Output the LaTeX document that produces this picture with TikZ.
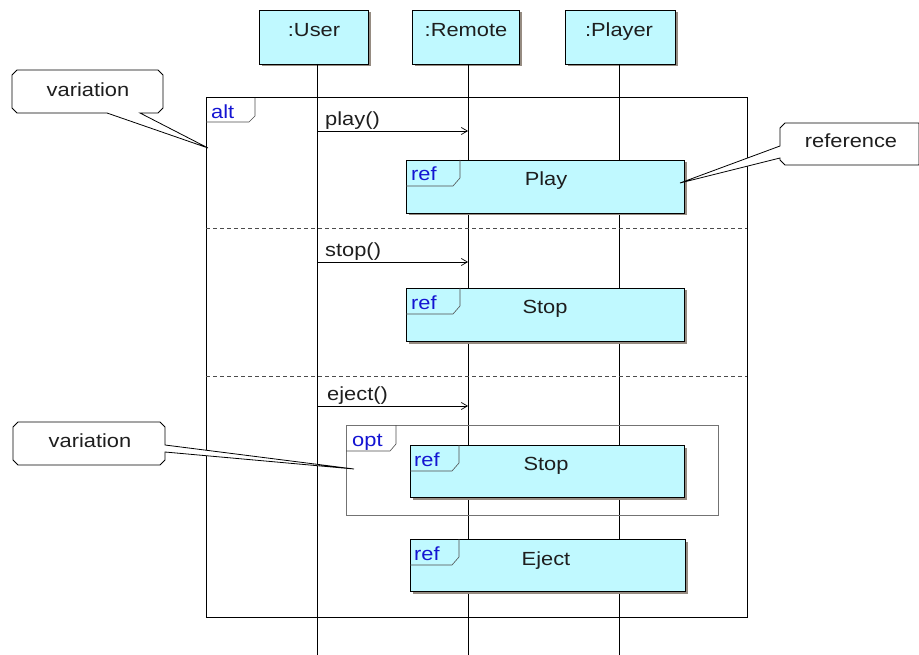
\documentclass[tikz,border=0pt]{standalone}
\usepackage{fontspec}
\setmainfont[FakeStretch=1.15]{Liberation Sans}
\usetikzlibrary{arrows.meta}
\definecolor{cyanfill}{RGB}{192,249,255}
\definecolor{tagblue}{RGB}{20,20,210}
\definecolor{shadowgray}{RGB}{150,140,130}
\definecolor{txt}{RGB}{30,30,30}
\begin{document}
\begin{tikzpicture}[x=1pt,y=-1pt,
  every node/.style={font=\fontsize{19}{22}\selectfont, inner sep=0pt, text=txt},
  lbl/.style={anchor=base},
  lblw/.style={anchor=base west},
  head/.style={draw=black, line width=1pt, fill=cyanfill, minimum height=54pt, anchor=north west},
  refbox/.style={draw=black, line width=1pt, fill=cyanfill, anchor=north west, minimum height=53pt},
  shade/.style={fill=shadowgray, draw=none},
  lifeline/.style={line width=1pt, black},
  msg/.style={line width=0.7pt, -{Straight Barb[length=6pt,width=7pt,line width=0.7pt]}},
  tabtext/.style={text=tagblue, anchor=base west},
  tab/.style={draw=black!70, line width=0.6pt},
  sep/.style={draw=black!70, line width=0.6pt, dash pattern=on 4pt off 3pt},
  callout/.style={draw=black, line width=0.8pt, fill=white}
]
\useasboundingbox (0,0) rectangle (919,655);

% lifeline heads (shadow first)
\fill[shade] (261.5,12.5) rectangle (370.5,66.5);
\fill[shade] (414.5,12.5) rectangle (521.5,66.5);
\fill[shade] (567.5,12.5) rectangle (677.5,66.5);
\node[head, minimum width=109pt] (user) at (259,10) {};
\node[lbl] (userlbl) at (314,37) {:User};
\node[head, minimum width=107pt] (remote) at (412,10) {};
\node[lbl] (remotelbl) at (466,37) {:Remote};
\node[head, minimum width=110pt] (player) at (565,10) {};
\node[lbl] (playerlbl) at (619,37) {:Player};

% lifelines
\coordinate (ubot) at (317,655);
\coordinate (rbot) at (468,655);
\coordinate (pbot) at (619,655);
\coordinate (utop) at (317,64);
\coordinate (rtop) at (468,64);
\coordinate (ptop) at (619,64);
\draw[lifeline] (utop) -- (ubot);
\draw[lifeline, line width=0.7pt] (rtop) -- (rbot);
\draw[lifeline] (ptop) -- (pbot);

% alt frame
\draw[line width=1pt] (206,98) rectangle (747,617);
\node[tabtext] (alttxt) at (211,119) {alt};
\draw[tab] (206,122) -- (249,122) -- (255,116) -- (255,98);
\draw[sep] (206,228) -- (747,228);
\draw[sep] (206,376) -- (747,376);

% messages
\coordinate (m1a) at (317,131); \coordinate (m1b) at (468,131);
\draw[msg] (m1a) -- (m1b);
\node[lblw] (m1lbl) at (325,126) {play()};
\coordinate (m2a) at (317,262); \coordinate (m2b) at (468,262);
\draw[msg] (m2a) -- (m2b);
\node[lblw] (m2lbl) at (325,257) {stop()};
\coordinate (m3a) at (317,406); \coordinate (m3b) at (468,406);
\draw[msg] (m3a) -- (m3b);
\node[lblw] (m3lbl) at (327,400) {eject()};

% ref Play
\fill[shade] (408.5,162.5) rectangle (686.5,215.5);
\node[refbox, minimum width=278pt] (refplay) at (406,160) {};
\node[lbl] (playlbl) at (546,186) {Play};
\node[tabtext] (r1t) at (411,181) {ref};
\draw[tab] (406,186) -- (453,186) -- (460,178) -- (460,160);

% ref Stop
\fill[shade] (408.5,290.5) rectangle (686.5,343.5);
\node[refbox, minimum width=278pt] (refstop) at (406,288) {};
\node[lbl] (stoplbl) at (545,314) {Stop};
\node[tabtext] (r2t) at (411,309) {ref};
\draw[tab] (406,314) -- (453,314) -- (460,306) -- (460,288);

% opt frame
\draw[draw=black!55, line width=0.7pt] (346,425) rectangle (718,515);
\node[tabtext] (opttxt) at (352,446) {opt};
\draw[tab] (346,451) -- (390,451) -- (396,444) -- (396,425);

% ref Stop inner
\fill[shade] (412.5,447.5) rectangle (686.5,499.5);
\node[refbox, minimum width=274pt, minimum height=52pt] (refstop2) at (410,445) {};
\node[lbl] (stop2lbl) at (546,470) {Stop};
\node[tabtext] (r3t) at (414,466) {ref};
\draw[tab] (410,471) -- (452,471) -- (459,463) -- (459,445);

% ref Eject
\fill[shade] (412.5,541.5) rectangle (687.5,593.5);
\node[refbox, minimum width=275pt, minimum height=52pt] (refeject) at (410,539) {};
\node[lbl] (ejectlbl) at (546,565) {Eject};
\node[tabtext] (r4t) at (414,560) {ref};
\draw[tab] (410,565) -- (452,565) -- (459,557) -- (459,539);

% callouts
\coordinate (tip1) at (208,148);
\draw[callout] (17,70) -- (158,70) -- (163,75) -- (163,108) -- (158,113) -- (140,113) -- (tip1) -- (107,113) -- (17,113) -- (12,108) -- (12,75) -- cycle;
\node[lbl] (c1) at (88,97) {variation};

\coordinate (tip2) at (680,183);
\draw[callout] (785,123) -- (919,123) -- (919,165) -- (785,165) -- (780,160) -- (780,158) -- (tip2) -- (780,146) -- (780,128) -- cycle;
\node[lbl] (c2) at (851,148) {reference};

\coordinate (tip3) at (354,469);
\draw[callout] (18,422) -- (160,422) -- (165,427) -- (165,445) -- (tip3) -- (165,452) -- (165,460) -- (160,465) -- (18,465) -- (13,460) -- (13,427) -- cycle;
\node[lbl] (c3) at (90,447) {variation};
\end{tikzpicture}
\end{document}
